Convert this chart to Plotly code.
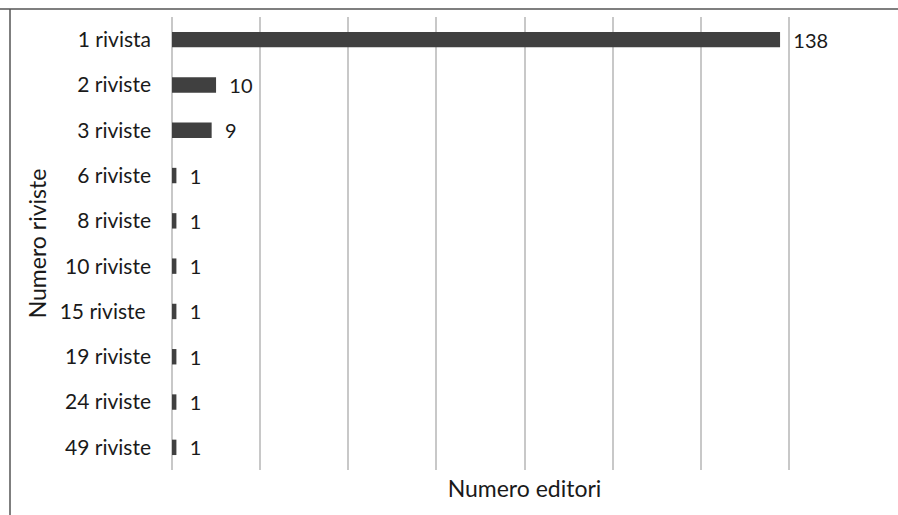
import plotly.graph_objects as go

categories = ["1 rivista", "2 riviste", "3 riviste", "6 riviste", "8 riviste",
              "10 riviste", "15 riviste\u00a0", "19 riviste", "24 riviste", "49 riviste"]
editori = [138, 10, 9, 1, 1, 1, 1, 1, 1, 1]

FONT = "Lato, Open Sans, sans-serif"

fig = go.Figure()
fig.add_trace(go.Bar(
    x=editori, y=categories, orientation="h",
    marker=dict(color="#404040", line=dict(width=0)),
    width=0.34,
    text=["\u00a0\u00a0" + str(v) for v in editori],
    textposition="outside", cliponaxis=False, constraintext="none",
    textfont=dict(family=FONT, size=20, color="#1a1a1a"),
))

fig.update_layout(
    width=898, height=515,
    margin=dict(l=172, r=21, t=17, b=45),
    paper_bgcolor="white", plot_bgcolor="white",
    showlegend=False,
    font=dict(family=FONT, color="#1a1a1a"),
    uniformtext=dict(mode=False),
    xaxis=dict(range=[0, 160], dtick=20, showgrid=True, gridcolor="#c8c8c8", gridwidth=2,
               showticklabels=False, zeroline=True, zerolinecolor="#c8c8c8", zerolinewidth=2,
               showline=False, ticks="",
               title=dict(text="Numero editori", font=dict(family=FONT, size=23, color="#1a1a1a"), standoff=10)),
    yaxis=dict(categoryorder="array", categoryarray=categories, autorange="reversed",
               showgrid=False, showline=False, ticks="", ticklabelstandoff=20,
               tickfont=dict(family=FONT, size=21, color="#1a1a1a"),
               title=dict(text="Numero riviste", font=dict(family=FONT, size=23, color="#1a1a1a"), standoff=6)),
    bargap=0.66,
    shapes=[
        dict(type="line", xref="paper", yref="paper", x0=-172/705, x1=1.1, y0=1+8/453, y1=1+8/453,
             line=dict(color="#555555", width=1.5)),
        dict(type="line", xref="paper", yref="paper", x0=-162/705, x1=-162/705, y0=-1, y1=1+8/453,
             line=dict(color="#555555", width=1.5)),
    ],
)

fig.write_html("out.html")
